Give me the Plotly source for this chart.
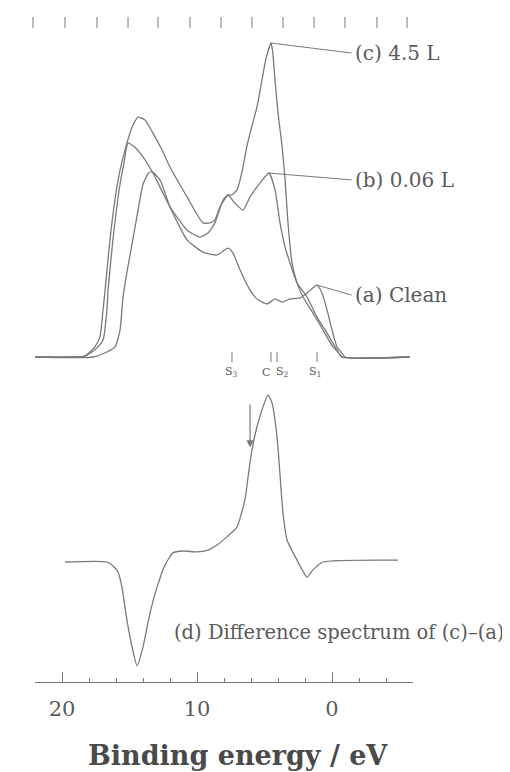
import plotly.graph_objects as go

# ---------------- data ----------------
# binding energy (eV) / intensity (arb. units) for each spectrum
E_c = [22.0, 19.41, 18.30, 17.93, 17.56, 17.19, 16.96, 16.81, 16.44, 16.07, 15.70, 15.19,
       14.81, 14.37, 13.85, 13.26, 12.59, 12.00, 10.74, 9.56, 9.04, 8.67, 8.30, 7.70,
       7.41, 7.04, 6.67, 6.30, 5.93, 5.56, 5.19, 4.89, 4.52, 4.40, 4.22, 4.00, 3.70,
       3.48, 3.26, 2.96, 2.59, 2.15, 1.41, 0.67, -0.07, -0.44, -0.74, -5.78]
I_c = [0, 0, 0.3, 1.6, 3.2, 6.4, 15.0, 21.3, 37.6, 50.3, 59.5, 68.2,
       73.2, 76.4, 75.5, 71.3, 65.9, 60.5, 51.0, 42.7, 42.7, 43.6, 47.8, 51.6,
       51.6, 53.2, 58.9, 67.2, 73.6, 79.6, 88.2, 95.0, 100.0, 97.5, 88.2, 77.7, 67.2,
       56.7, 42.7, 29.9, 23.6, 19.1, 14.0, 8.6, 3.2, 1.6, 0, 0]

E_b = [22.0, 19.41, 18.30, 17.78, 17.41, 16.96, 16.67, 16.59, 16.22, 15.70, 15.41, 15.11,
       14.67, 14.22, 13.26, 12.00, 10.74, 9.78, 9.19, 8.67, 8.07, 7.70, 7.19, 6.59,
       6.07, 5.33, 4.67, 4.22, 3.85, 3.48, 3.11, 2.59, 1.85, 1.11, 0.37, -0.37, -0.74, -5.78]
I_b = [0, 0, 0.3, 1.6, 2.9, 5.4, 15.0, 21.3, 37.6, 55.1, 61.8, 68.2,
       67.0, 65.0, 58.6, 47.8, 40.4, 38.2, 39.5, 42.7, 50.0, 51.6, 49.0, 46.8,
       51.0, 55.4, 58.6, 53.2, 42.7, 35.0, 29.9, 23.6, 19.1, 12.7, 7.6, 2.2, 0, 0]

E_a = [22.0, 17.70, 16.67, 16.07, 15.70, 15.48, 15.19, 14.81, 14.44, 14.00, 13.60, 13.33,
       12.74, 12.00, 10.74, 9.56, 8.52, 7.70, 7.33, 6.81, 6.07, 5.48, 4.81, 4.22,
       3.70, 3.11, 2.37, 1.85, 1.11, 0.74, 0.37, 0.00, -0.37, -0.67, -0.96, -5.78]
I_a = [0, 0, 1.6, 3.2, 8.6, 19.0, 27.0, 36.0, 45.0, 55.0, 58.5, 59.0,
       56.4, 47.8, 37.3, 33.4, 32.5, 34.7, 33.1, 27.7, 21.3, 18.2, 16.9, 18.5,
       17.5, 18.5, 18.8, 20.4, 22.9, 20.4, 15.0, 8.6, 3.2, 1.6, 0, 0]

E_d = [19.78, 16.67, 16.07, 15.85, 15.56, 15.19, 14.81, 14.44, 14.00, 13.48, 12.96, 12.37,
       11.78, 11.04, 10.00, 9.19, 8.52, 7.78, 7.04, 6.44, 6.22, 5.93, 5.48, 5.11,
       4.74, 4.44, 4.07, 3.63, 3.33, 2.59, 1.85, 1.41, 0.67, -4.89]
I_d = [0, 0, -1.9, -3.2, -8.0, -18.5, -27.1, -33.1, -27.1, -16.2, -8.0, -1.0,
       2.9, 3.5, 3.2, 3.8, 5.4, 8.0, 11.1, 20.0, 27.0, 35.7, 44.3, 49.4,
       53.2, 50.6, 39.8, 15.6, 7.0, 0.6, -4.8, -2.5, 0, 0.6]

# axis ticks
x_major = [20, 10, 0]
x_major_text = ["20", "10", "0"]
# unlabelled tick row along the top of the figure (positions in eV)
top_ticks_E = [22.15, 19.78, 17.41, 15.11, 12.89, 10.52, 8.22, 5.93, 3.63, 1.33, -0.96, -3.33, -5.56]
top_tick_span = [104.8, 108.3]

# feature markers
marker_E = [7.41, 4.52, 4.07, 1.11]
marker_text = ["S<sub>3</sub>", "C", "S<sub>2</sub>", "S<sub>1</sub>"]
marker_shift = [0, -5, 5, -2]

# curve labels
label_text = ["(c) 4.5 L", "(b) 0.06 L", "(a) Clean"]
label_peak_E = [4.52, 4.74, 1.11]
label_peak_I = [100.0, 58.6, 22.9]
label_I = [96.8, 56.4, 19.7]
label_E = -1.45

diff_label = "(d) Difference spectrum of (c)\u2013(a)"
arrow_E = 6.07
arrow_from, arrow_to = 50.6, 36.5

# ---------------- figure ----------------
LC = "#7a7a7a"
TC = "#5a5a5a"
OFF = 8                # page offset of the plot inside the browser window
W, H = 510 - OFF, 772 - OFF


def fx(px):
    return (px - OFF) / W


def fy(py):
    return 1 - (py - OFF) / H


fig = go.Figure()
for E, I in [(E_a, I_a), (E_b, I_b), (E_c, I_c)]:
    fig.add_trace(go.Scatter(x=E, y=I, mode="lines", xaxis="x3", yaxis="y",
                             line=dict(color=LC, width=1.3, shape="spline", smoothing=0.5),
                             hoverinfo="skip"))
fig.add_trace(go.Scatter(x=E_d, y=I_d, mode="lines", xaxis="x", yaxis="y2",
                         line=dict(color=LC, width=1.3, shape="spline", smoothing=0.5),
                         hoverinfo="skip"))

# leader lines
for pe, pi, li in zip(label_peak_E, label_peak_I, label_I):
    fig.add_trace(go.Scatter(x=[pe, label_E], y=[pi, li], mode="lines", xaxis="x3", yaxis="y",
                             line=dict(color=LC, width=1), hoverinfo="skip"))

# marker ticks
mx, my = [], []
for e in marker_E:
    mx += [e, e, None]
    my += [1.6, -1.6, None]
fig.add_trace(go.Scatter(x=mx, y=my, mode="lines", xaxis="x3", yaxis="y",
                         line=dict(color=LC, width=1), hoverinfo="skip"))

# top tick row
tx, ty = [], []
for e in top_ticks_E:
    tx += [e, e, None]
    ty += [top_tick_span[0], top_tick_span[1], None]
fig.add_trace(go.Scatter(x=tx, y=ty, mode="lines", xaxis="x3", yaxis="y",
                         line=dict(color=LC, width=1), hoverinfo="skip"))

annotations = []
for t, li in zip(label_text, label_I):
    annotations.append(dict(x=label_E, y=li, xref="x3", yref="y", text=t, showarrow=False,
                            xanchor="left", yanchor="middle", xshift=1,
                            font=dict(family="DejaVu Serif", size=20, color=TC)))
for e, t, s in zip(marker_E, marker_text, marker_shift):
    annotations.append(dict(x=e, y=-4.8, xref="x3", yref="y", text=t, showarrow=False,
                            xanchor="center", yanchor="middle", xshift=s,
                            font=dict(family="DejaVu Serif", size=11, color=TC)))
annotations.append(dict(x=11.85, y=-22.3, xref="x", yref="y2", text=diff_label, showarrow=False,
                        xanchor="left", yanchor="middle",
                        font=dict(family="DejaVu Serif", size=19.5, color=TC)))
annotations.append(dict(x=arrow_E, y=arrow_to, ax=arrow_E, ay=arrow_from, xref="x", yref="y2",
                        axref="x", ayref="y2", text="", showarrow=True, arrowhead=2,
                        arrowsize=1.2, arrowwidth=1.2, arrowcolor=LC))
annotations.append(dict(x=fx(238), y=fy(755), xref="paper", yref="paper",
                        text="<b>Binding energy / eV</b>", showarrow=False,
                        xanchor="center", yanchor="middle",
                        font=dict(family="DejaVu Serif", size=27, color="#4a4a4a")))

fig.update_layout(
    width=W, height=H, margin=dict(l=0, r=0, t=0, b=0),
    paper_bgcolor="white", plot_bgcolor="white", showlegend=False,
    annotations=annotations,
    xaxis=dict(domain=[fx(35), fx(413)], range=[22, -6], anchor="y2",
               tickvals=x_major, ticktext=x_major_text, ticks="inside", ticklen=10,
               tickcolor=LC, showline=True, linecolor=LC, linewidth=1,
               showgrid=False, zeroline=False, ticklabelstandoff=8,
               tickfont=dict(family="DejaVu Serif", size=21, color=TC),
               minor=dict(tick0=0, dtick=2, ticks="inside", ticklen=4, tickcolor=LC, showgrid=False),
               automargin=False),
    xaxis3=dict(domain=[fx(28.25), fx(413)], range=[22.5, -6], anchor="y", visible=False),
    yaxis=dict(domain=[fy(388.4), fy(11.6)], range=[-10, 110], anchor="x3", visible=False),
    yaxis2=dict(domain=[fy(682), fy(390)], range=[-38.22, 54.78], anchor="x", visible=False),
)

fig.write_html("out.html")
